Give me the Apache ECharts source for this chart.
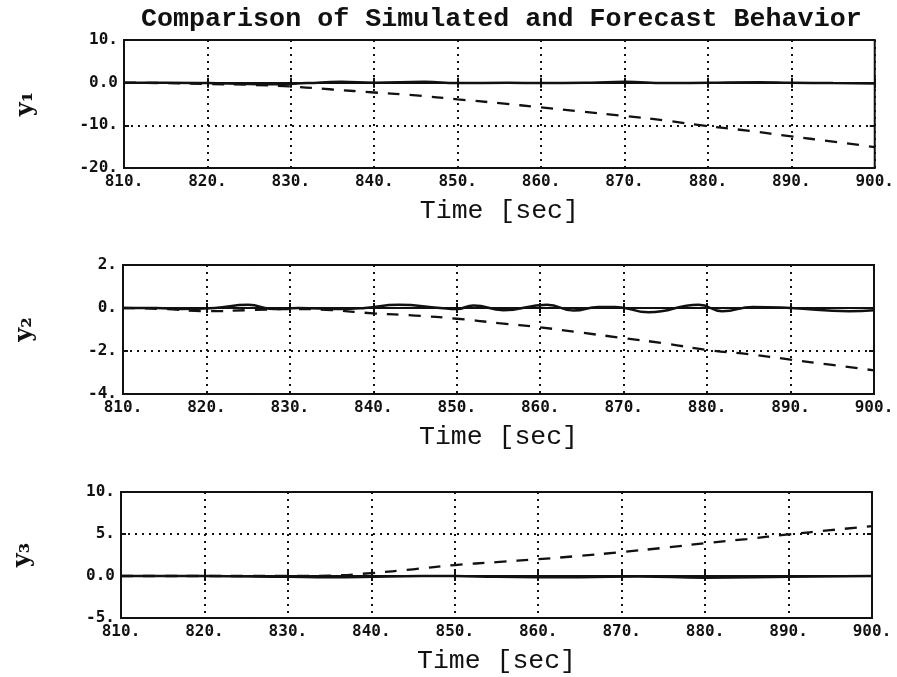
<!DOCTYPE html>
<html>
<head>
<meta charset="utf-8">
<script src="https://cdn.jsdelivr.net/npm/echarts@6/dist/echarts.min.js"></script>
<style>
  html, body { margin: 0; padding: 0; background: #fff; }
  #chart { width: 897px; height: 677px; }
</style>
</head>
<body>
<div id="chart"></div>
<script>
// forecast runs on a 5 s step
const forecastTime = [810, 815, 820, 825, 830, 835, 840, 845, 850, 855, 860, 865, 870, 875, 880, 885, 890, 895, 900]
const y1Forecast = [0, -0.1, -0.3, -0.5, -0.9, -1.6, -2.3, -3.0, -3.9, -4.8, -5.8, -6.8, -7.8, -8.9, -10.2, -11.3, -12.6, -13.8, -15.1]
const y2Forecast = [0, -0.05, -0.15, -0.1, -0.05, -0.1, -0.25, -0.35, -0.5, -0.7, -0.9, -1.15, -1.4, -1.65, -1.95, -2.15, -2.4, -2.65, -2.9]
const y3Forecast = [0, 0, 0, 0, 0, 0.05, 0.35, 0.8, 1.3, 1.65, 2.0, 2.4, 2.85, 3.35, 3.9, 4.4, 4.95, 5.45, 5.95]

// simulated, sampled where the trace bends
const y1SimTime = [810, 815, 820, 825, 828, 832, 836, 840, 846, 850, 856, 860, 866, 870, 875, 880, 886, 890, 895, 900]
const y1Sim = [0, 0, -0.1, -0.3, -0.4, -0.1, 0.2, 0, 0.2, -0.1, 0, -0.1, 0, 0.2, -0.1, 0, 0.1, 0, -0.1, -0.2]
const y2SimTime = [810, 814, 817, 821, 825, 828, 831, 836, 839, 843, 848, 850, 852, 855.6, 860.8, 864, 867, 869, 873, 879, 881.8, 885.5, 890, 897, 900]
const y2Sim = [0, 0, -0.05, 0, 0.15, -0.05, 0, -0.05, 0, 0.15, 0, -0.05, 0.12, -0.1, 0.15, -0.12, 0.05, 0.05, -0.2, 0.15, -0.15, 0.05, 0, -0.15, -0.1]
const y3SimTime = [810, 820, 830, 835, 842, 850, 855, 865, 872, 880, 890, 900]
const y3Sim = [0, 0, -0.1, -0.15, -0.05, 0, -0.1, -0.15, -0.05, -0.2, -0.1, 0]

const xTicks = [810, 820, 830, 840, 850, 860, 870, 880, 890, 900]
const y1Ticks = { '10': '10.', '0': '0.0', '-10': '-10.', '-20': '-20.' }
const y2Ticks = { '2': '2.', '0': '0.', '-2': '-2.', '-4': '-4.' }
const y3Ticks = { '10': '10.', '5': '5.', '0': '0.0', '-5': '-5.' }

const panels = [
  { name: 'y₁', min: -20, max: 10, interval: 10, ticks: y1Ticks, simT: y1SimTime, sim: y1Sim, fc: y1Forecast,
    grid: { left: 124, top: 40, width: 751, height: 128 } },
  { name: 'y₂', min: -4, max: 2, interval: 2, ticks: y2Ticks, simT: y2SimTime, sim: y2Sim, fc: y2Forecast,
    grid: { left: 123, top: 265, width: 751, height: 129 } },
  { name: 'y₃', min: -5, max: 10, interval: 5, ticks: y3Ticks, simT: y3SimTime, sim: y3Sim, fc: y3Forecast,
    grid: { left: 121, top: 492, width: 751, height: 126 } }
]

const tickFont = { color: '#111', fontFamily: 'DejaVu Sans Mono', fontWeight: 'bold', fontSize: 16 }
const dotted = { color: '#111', width: 2, type: [2, 5] }

const grid = [], xAxis = [], yAxis = [], series = []
panels.forEach((p, i) => {
  grid.push(Object.assign({ show: true, borderColor: '#111', borderWidth: 2, backgroundColor: 'transparent' }, p.grid))
  // bottom axis with labels
  xAxis.push({
    type: 'value', gridIndex: i, min: 810, max: 900, interval: 10,
    name: 'Time [sec]', nameLocation: 'middle', nameGap: 29,
    nameTextStyle: { color: '#111', fontFamily: 'Liberation Mono', fontSize: 26.5 },
    axisLine: { show: true, lineStyle: { color: '#111', width: 2 } },
    axisTick: { show: true, inside: true, length: 5, lineStyle: { color: '#111', width: 2 } },
    axisLabel: Object.assign({ margin: 6, formatter: v => xTicks.includes(v) ? v + '.' : '' }, tickFont),
    splitLine: { show: true, lineStyle: dotted }
  })
  // top axis only for the inside ticks
  xAxis.push({
    type: 'value', gridIndex: i, min: 810, max: 900, interval: 10, position: 'top',
    axisLine: { show: false },
    axisTick: { show: true, inside: true, length: 5, lineStyle: { color: '#111', width: 2 } },
    axisLabel: { show: false }, splitLine: { show: false }
  })
  yAxis.push({
    type: 'value', gridIndex: i, min: p.min, max: p.max, interval: p.interval,
    name: p.name, nameLocation: 'middle', nameGap: 86, nameRotate: 90,
    nameTextStyle: { color: '#111', fontFamily: 'DejaVu Serif', fontWeight: 'bold', fontSize: 24 },
    axisLine: { show: true, lineStyle: { color: '#111', width: 2 } },
    axisTick: { show: true, inside: true, length: 5, lineStyle: { color: '#111', width: 2 } },
    axisLabel: Object.assign({ margin: 6, formatter: v => p.ticks[String(v)] || '' }, tickFont),
    splitLine: { show: true, lineStyle: dotted }
  })
  yAxis.push({
    type: 'value', gridIndex: i, min: p.min, max: p.max, interval: p.interval, position: 'right',
    axisLine: { show: false },
    axisTick: { show: true, inside: true, length: 5, lineStyle: { color: '#111', width: 2 } },
    axisLabel: { show: false }, splitLine: { show: false }
  })
  series.push({
    type: 'line', xAxisIndex: 2 * i, yAxisIndex: 2 * i, showSymbol: false, smooth: true,
    data: p.simT.map((t, k) => [t, p.sim[k]]),
    lineStyle: { color: '#111', width: 2.5 }, z: 3
  })
  series.push({
    type: 'line', xAxisIndex: 2 * i, yAxisIndex: 2 * i, showSymbol: false, smooth: true,
    data: forecastTime.map((t, k) => [t, p.fc[k]]),
    lineStyle: { color: '#111', width: 2.3, type: [12, 10] }, z: 4
  })
})

const chart = echarts.init(document.getElementById('chart'), null, { renderer: 'canvas' })
chart.setOption({
  animation: false,
  backgroundColor: '#fff',
  title: {
    text: 'Comparison of Simulated and Forecast Behavior',
    left: 136, top: 1,
    textStyle: { color: '#111', fontFamily: 'Liberation Mono', fontWeight: 'bold', fontSize: 26.7 }
  },
  grid, xAxis, yAxis, series
})
</script>
</body>
</html>
